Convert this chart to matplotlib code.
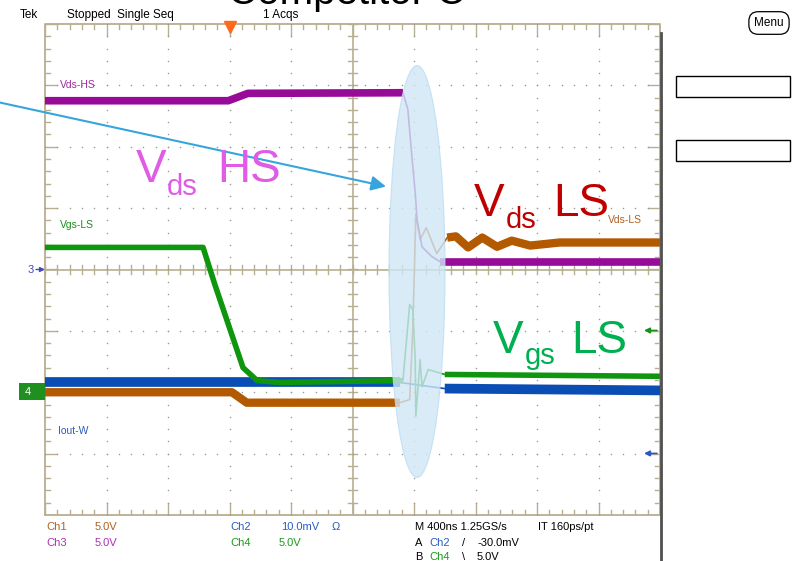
import matplotlib.pyplot as plt
import matplotlib.patches as mpatches
import numpy as np

# traces, in divisions (x: 0..10 at 400 ns/div, y: -4..4)
hs_t = [0, 2.98, 3.30, 5.82, 5.90, 5.97, 6.02, 6.05, 6.13, 6.29, 6.42, 10.0]
hs_v = [2.75, 2.75, 2.87, 2.88, 2.61, 1.79, 1.25, 0.81, 0.37, 0.21, 0.13, 0.13]

ls_t = [0, 3.04, 3.28, 5.77, 5.93, 5.98, 6.03, 6.10, 6.20, 6.37, 6.54, 6.68,
        6.88, 7.11, 7.35, 7.59, 7.89, 8.37, 10.0]
ls_v = [-2.00, -2.00, -2.17, -2.17, -2.12, -0.98, 0.90, 0.49, 0.68, 0.26, 0.52, 0.54,
        0.36, 0.52, 0.37, 0.47, 0.39, 0.44, 0.44]

gs_t = [0, 2.57, 2.76, 3.01, 3.22, 3.45, 3.82, 5.82, 5.85, 5.93, 5.98, 6.02, 6.03,
        6.10, 6.13, 6.23, 6.50, 10.0]
gs_v = [0.36, 0.36, -0.24, -0.98, -1.60, -1.81, -1.84, -1.81, -1.47, -0.57, -0.65,
        -1.47, -2.39, -1.47, -1.91, -1.63, -1.71, -1.74]

io_t = [0, 5.77, 6.50, 10.0]
io_v = [-1.84, -1.84, -1.94, -1.97]

W, H = 806, 561
fig = plt.figure(figsize=(W / 100, H / 100), dpi=100)


def fx(px):
    return px / W


def fy(py):
    return 1 - py / H


def d(px, py):
    # screen pixel -> division coords
    return (px - 45) / 61.5, (270 - py) / 61.4


ax = fig.add_axes([fx(45), fy(515), 615 / W, 491 / H])
ax.set_xlim(0, 10)
ax.set_ylim(-4, 4)
ax.axis('off')

# graticule
gc = '#b8ae90'
ax.plot([0, 10, 10, 0, 0], [-4, -4, 4, 4, -4], color=gc, lw=1.3, clip_on=False, zorder=1)
ax.axhline(0, color=gc, lw=1.2, zorder=1)
ax.axvline(5, color=gc, lw=1.2, zorder=1)
for k in np.arange(0, 10.01, 0.2):
    ln = 0.2 if abs(k - round(k)) < 1e-6 else 0.08
    ax.plot([k, k], [4, 4 - ln], color=gc, lw=1, zorder=1)
    ax.plot([k, k], [-4, -4 + ln], color=gc, lw=1, zorder=1)
    ax.plot([k, k], [-0.07, 0.07], color=gc, lw=1, zorder=1)
for k in np.arange(-4, 4.01, 0.2):
    ln = 0.2 if abs(k - round(k)) < 1e-6 else 0.08
    ax.plot([0, ln], [k, k], color=gc, lw=1, zorder=1)
    ax.plot([10, 10 - ln], [k, k], color=gc, lw=1, zorder=1)
    ax.plot([4.93, 5.07], [k, k], color=gc, lw=1, zorder=1)
dx, dy = [], []
for gx in range(1, 10):
    if gx == 5:
        continue
    for k in np.arange(-4, 4.01, 0.2):
        dx.append(gx); dy.append(k)
for gy in range(-3, 4):
    if gy == 0:
        continue
    for k in np.arange(0, 10.01, 0.2):
        dx.append(k); dy.append(gy)
ax.scatter(dx, dy, s=1.2, color='#9a9a9a', zorder=1, linewidths=0)

# traces: thick (noisy band) outside the transient, thin inside it
t0, t1 = 5.83, 6.4
traces = [
    (ls_t, ls_v, '#b35a00', 6),
    (io_t, io_v, '#0a4db4', 7),
    (hs_t, hs_v, '#980a98', 5.5),
    (gs_t, gs_v, '#0e960e', 4),
]
for i, (t, v, c, w) in enumerate(traces):
    t = np.array(t); v = np.array(v)
    z = 2 + i
    ax.plot(t, v, color=c, lw=1.2, zorder=z)
    m = t <= t0
    ax.plot(t[m], v[m], color=c, lw=w, zorder=z, solid_capstyle='butt')
    m = t >= t1
    ax.plot(t[m], v[m], color=c, lw=w, zorder=z, solid_capstyle='butt')

# highlight ellipse
ex, ey = d(417, 272)
ax.add_patch(mpatches.Ellipse((ex, ey), 56 / 61.5, 412 / 61.4, facecolor='#cfe7f6',
                              edgecolor='#bcdcf0', lw=0.8, alpha=0.8, zorder=8))

# trigger marker
tx, ty = d(230, 27)
ax.plot([tx], [ty], marker='v', ms=8, color='#ff6a1a', clip_on=False, zorder=9)

# arrow
sx, sy = d(0, 103)
ex2, ey2 = d(386, 187)
ax.annotate('', xy=(ex2, ey2), xytext=(sx, sy), annotation_clip=False,
            arrowprops=dict(arrowstyle='-|>', mutation_scale=22, color='#37a5dc', lw=1.5,
                            shrinkA=0, shrinkB=0), zorder=10)

# channel tags in the graticule
small = ['Liberation Sans Narrow', 'Liberation Sans', 'DejaVu Sans']
fig.text(fx(60), fy(85), 'Vds-HS', color='#a02aa0', fontsize=7.5, va='center', family=small)
fig.text(fx(60), fy(225), 'Vgs-LS', color='#1a8f1a', fontsize=7.5, va='center', family=small)
fig.text(fx(58), fy(431), 'Iout-W', color='#2a5cc0', fontsize=7.5, va='center', family=small)
fig.text(fx(608), fy(220), 'Vds-LS', color='#b06020', fontsize=7.5, va='center', family=small)

# left markers
fig.text(fx(28), fy(270), '3', color='#4048c0', fontsize=8, va='center', family=small)
a, b = d(36, 270)
c2, d2 = d(45, 270)
ax.annotate('', xy=(c2, d2), xytext=(a, b), annotation_clip=False,
            arrowprops=dict(arrowstyle='-|>', mutation_scale=7, color='#4048c0', lw=1,
                            shrinkA=0, shrinkB=0))
fig.add_artist(mpatches.Rectangle((fx(19), fy(400)), 26 / W, 17 / H, transform=fig.transFigure,
                                  facecolor='#1f8f1f', edgecolor='none'))
fig.text(fx(25), fy(392), '4', color='white', fontsize=8, va='center', family=small)
a, b = d(34, 392)
c2, d2 = d(44, 392)
ax.annotate('', xy=(c2, d2), xytext=(a, b), annotation_clip=False,
            arrowprops=dict(arrowstyle='-|>', mutation_scale=7, color='white', lw=1,
                            shrinkA=0, shrinkB=0), zorder=12)

# right markers
for py, c in [(331, '#1a8f1a'), (454, '#2a5cc0')]:
    a, b = d(657, py)
    c2, d2 = d(644, py)
    ax.annotate('', xy=(c2, d2), xytext=(a, b), annotation_clip=False,
                arrowprops=dict(arrowstyle='-|>', mutation_scale=8, color=c, lw=1.2,
                                shrinkA=0, shrinkB=0))

# right border of screen
fig.add_artist(plt.Line2D([fx(661), fx(661)], [fy(33), fy(561)], color='#505050', lw=2,
                          transform=fig.transFigure))

# big annotations
big = ['Liberation Sans', 'DejaVu Sans']
for parts, c in [
    ([(136, 182, 'V', 33), (167, 195, 'ds', 21), (217, 182, 'HS', 33)], '#e05be6'),
    ([(474, 216, 'V', 33), (506, 228, 'ds', 21), (553, 216, 'LS', 33)], '#c00000'),
    ([(493, 353, 'V', 33), (525, 364, 'gs', 21), (571, 353, 'LS', 33)], '#00b050'),
]:
    for px, py, s, fs in parts:
        fig.text(fx(px), fy(py), s, color=c, fontsize=fs, va='baseline', family=big, zorder=11)

fig.text(fx(228), fy(4), 'Competitor C', color='black', fontsize=29, va='baseline', family=big)

# header
fig.text(fx(20), fy(15), 'Tek', fontsize=8.5, va='center', family=small)
fig.text(fx(67), fy(15), 'Stopped  Single Seq', fontsize=8.5, va='center', family=small)
fig.text(fx(263), fy(15), '1 Acqs', fontsize=8.5, va='center', family=small)

# footer readouts
rows = [
    (46, 527, 'Ch1', '#b06020'), (95, 527, '5.0V', '#b06020'),
    (46, 543, 'Ch3', '#b030b0'), (95, 543, '5.0V', '#b030b0'),
    (230, 527, 'Ch2', '#2a5cc0'), (281, 527, '10.0mV', '#2a5cc0'), (332, 527, 'Ω', '#2a5cc0'),
    (230, 543, 'Ch4', '#1a9a1a'), (279, 543, '5.0V', '#1a9a1a'),
    (415, 527, 'M 400ns 1.25GS/s', 'black'), (538, 527, 'IT 160ps/pt', 'black'),
    (415, 543, 'A', 'black'), (429, 543, 'Ch2', '#2a5cc0'), (462, 543, '/', 'black'),
    (477, 543, '-30.0mV', 'black'),
    (415, 557, 'B', 'black'), (429, 557, 'Ch4', '#1a9a1a'), (462, 557, '\\', 'black'),
    (477, 557, '5.0V', 'black'),
]
for px, py, s, c in rows:
    fig.text(fx(px), fy(py), s, color=c, fontsize=8, va='center', family=small)

# side panel
fig.text(fx(769), fy(23), 'Menu', fontsize=8.5, ha='center', va='center', family=small,
         bbox=dict(boxstyle='round,pad=0.45,rounding_size=0.8', fc='white', ec='black', lw=0.9))
for py in (76, 140):
    fig.add_artist(mpatches.Rectangle((fx(676), fy(py + 21)), 114 / W, 21 / H,
                                      transform=fig.transFigure, fill=False, ec='black', lw=1))

fig.savefig('out.png', dpi=100)
